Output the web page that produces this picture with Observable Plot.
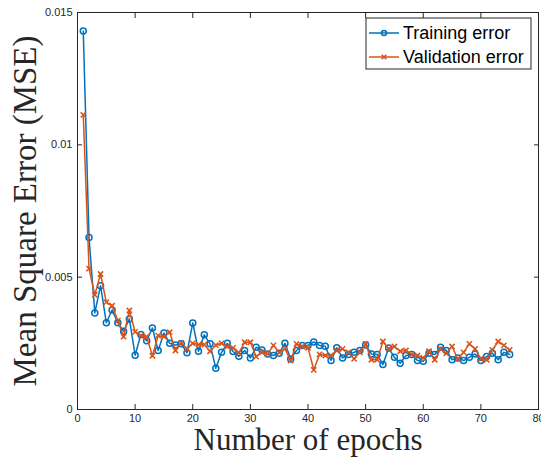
<!DOCTYPE html>
<html><head><meta charset="utf-8">
<script src="https://cdn.jsdelivr.net/npm/d3@7"></script>
<script src="https://cdn.jsdelivr.net/npm/@observablehq/plot@0.6"></script>
<style>body{margin:0;background:#fff}</style>
</head><body><div id="chart"></div>
<script>
const epochs = [1,2,3,4,5,6,7,8,9,10,11,12,13,14,15,16,17,18,19,20,21,22,23,24,25,26,27,28,29,30,31,32,33,34,35,36,37,38,39,40,41,42,43,44,45,46,47,48,49,50,51,52,53,54,55,56,57,58,59,60,61,62,63,64,65,66,67,68,69,70,71,72,73,74,75];
const trainingError = [0.0143,0.0065,0.00365,0.00468,0.00328,0.00376,0.00328,0.00296,0.00342,0.00205,
0.00283,0.0026,0.00308,0.00223,0.00289,0.0025,0.00244,0.00248,0.00214,0.00327,
0.0022,0.00282,0.00248,0.00156,0.00216,0.0025,0.00219,0.00201,0.00223,0.00195,
0.00235,0.00225,0.0021,0.00204,0.00213,0.0025,0.00191,0.00223,0.00242,0.00242,
0.00255,0.00242,0.00239,0.00185,0.00233,0.00195,0.00208,0.00216,0.00223,0.00244,
0.0021,0.00208,0.0017,0.00232,0.00197,0.00175,0.00204,0.00208,0.00185,0.00182,
0.00213,0.00208,0.00235,0.00223,0.00188,0.00195,0.00185,0.00197,0.0021,0.00185,
0.002,0.00213,0.00188,0.00216,0.00208];
const validationError = [0.01113,0.00532,0.00433,0.00512,0.00406,0.00392,0.00336,0.00275,0.00374,0.00293,
0.00279,0.00275,0.00203,0.00279,0.00275,0.00292,0.00223,0.00252,0.00229,0.0025,
0.00245,0.00245,0.0022,0.00243,0.0025,0.00238,0.00233,0.00214,0.00254,0.00254,
0.002,0.00216,0.0021,0.00242,0.00216,0.00229,0.00185,0.00248,0.00238,0.00233,
0.0015,0.00208,0.00204,0.00204,0.00223,0.00229,0.00216,0.00191,0.00216,0.00248,
0.00188,0.00188,0.00257,0.0023,0.00238,0.0022,0.00223,0.00208,0.00204,0.00195,
0.0022,0.00188,0.00229,0.00212,0.00238,0.00191,0.00216,0.00248,0.00229,0.00191,
0.00188,0.00225,0.00257,0.00242,0.00225];
const seriesNames = ["Training error", "Validation error"];
const seriesColors = ["#0072BD", "#D95319"];
const xTicks = [0,10,20,30,40,50,60,70,80];
const yTicks = [0,0.005,0.01,0.015];
const yTickLabels = ["0","0.005","0.01","0.015"];
const xLabel = "Number of epochs";
const yLabel = "Mean Square Error (MSE)";

const train = epochs.map((e,i)=>({epoch:e, value:trainingError[i]}));
const valid = epochs.map((e,i)=>({epoch:e, value:validationError[i]}));
const ink = "#262626";
const serif = "'Liberation Serif', serif";
const sans = "'Liberation Sans', Arial, sans-serif";
const noLabel = () => "";

const svg = Plot.plot({
  width: 541, height: 459,
  marginLeft: 77, marginRight: 3, marginTop: 12, marginBottom: 50,
  style: {fontFamily: sans, background: "#fff", overflow: "visible"},
  x: {domain: [0, 80]},
  y: {domain: [0, 0.015]},
  marks: [
    Plot.frame({stroke: ink, strokeWidth: 1}),
    Plot.axisX({ticks: xTicks, tickSize: 0, tickPadding: 5, label: null, fontSize: 11, color: ink}),
    Plot.axisX({ticks: xTicks, tickSize: -5, tickFormat: noLabel, label: null, color: ink}),
    Plot.axisX({anchor: "top", ticks: xTicks, tickSize: -5, tickFormat: noLabel, label: null, color: ink}),
    Plot.axisY({ticks: yTicks, tickSize: 0, tickPadding: 5, label: null, fontSize: 11, color: ink,
      tickFormat: (d) => yTickLabels[yTicks.indexOf(d)]}),
    Plot.axisY({ticks: yTicks, tickSize: -5, tickFormat: noLabel, label: null, color: ink}),
    Plot.axisY({anchor: "right", ticks: yTicks, tickSize: -5, tickFormat: noLabel, label: null, color: ink}),
    Plot.line(train, {x: "epoch", y: "value", stroke: seriesColors[0], strokeWidth: 1.5}),
    Plot.dot(train, {x: "epoch", y: "value", r: 3, stroke: seriesColors[0], fill: "none", strokeWidth: 1.5}),
    Plot.line(valid, {x: "epoch", y: "value", stroke: seriesColors[1], strokeWidth: 1.5}),
    Plot.dot(valid, {x: "epoch", y: "value", symbol: "times", r: 2.5, stroke: seriesColors[1], strokeWidth: 1.5}),
    Plot.text([xLabel], {frameAnchor: "bottom", textAnchor: "middle", dy: 40, fontSize: 31, fontFamily: serif, fill: ink}),
    Plot.text([yLabel], {frameAnchor: "left", textAnchor: "middle", rotate: -90, dx: -52, fontSize: 33, fontFamily: serif, fill: ink})
  ]
});

// legend
const g = d3.select(svg).append("g");
g.append("rect").attr("x", 366).attr("y", 18).attr("width", 165).attr("height", 51)
  .attr("fill", "#fff").attr("stroke", ink).attr("stroke-width", 1);
seriesNames.forEach((name, i) => {
  const y = 33 + i * 24;
  const c = seriesColors[i];
  g.append("line").attr("x1", 369).attr("x2", 399).attr("y1", y).attr("y2", y)
    .attr("stroke", c).attr("stroke-width", 1.5);
  if (i === 0) {
    g.append("circle").attr("cx", 384).attr("cy", y).attr("r", 2.5)
      .attr("fill", "none").attr("stroke", c).attr("stroke-width", 1.5);
  } else {
    g.append("path").attr("transform", `translate(384,${y})`)
      .attr("d", d3.symbol(d3.symbolTimes, 16)())
      .attr("fill", "none").attr("stroke", c).attr("stroke-width", 1.5);
  }
  g.append("text").attr("x", 403).attr("y", y).attr("dy", "0.35em")
    .attr("text-anchor", "start")
    .attr("font-family", sans).attr("font-size", 18).attr("fill", "#000").text(name);
});

document.getElementById("chart").appendChild(svg);
</script>
</body></html>
